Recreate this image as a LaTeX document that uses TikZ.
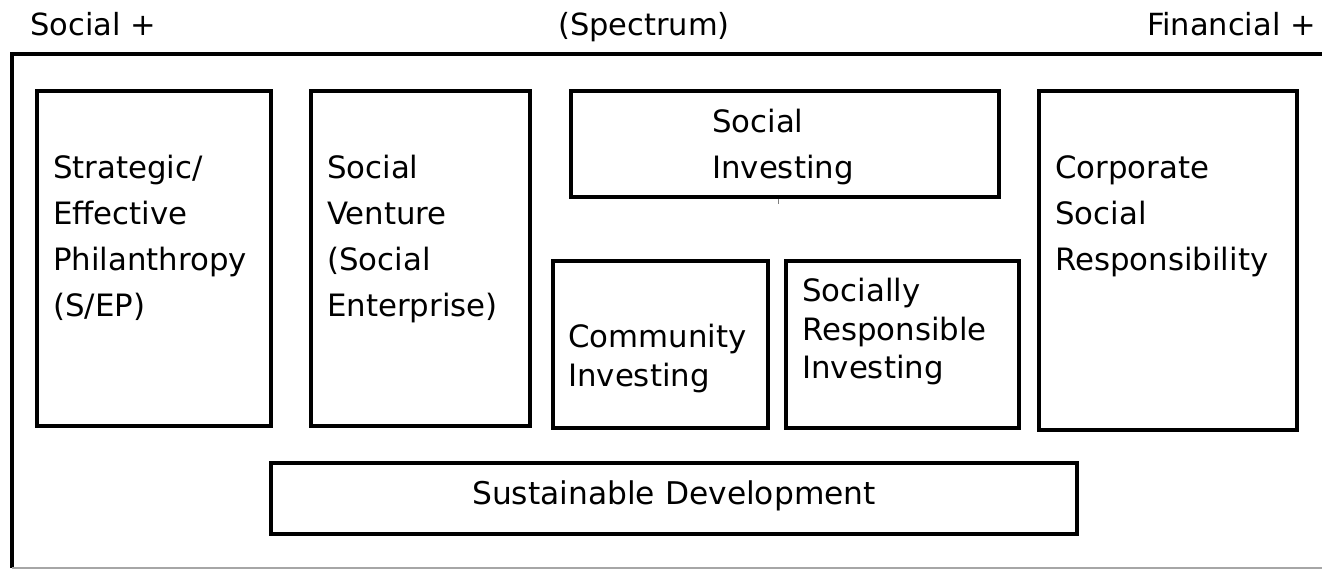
\documentclass[tikz,border=0pt]{standalone}
\usepackage{fontspec}
\setmainfont{DejaVu Sans}
\usetikzlibrary{fit}
\begin{document}
\begin{tikzpicture}[x=1pt,y=-1pt,
  box/.style={draw, line width=4pt, inner sep=0pt},
  lblwide/.style={anchor=north west, inner sep=0pt, align=left, font=\fontsize{30.8}{46}\selectfont},
  lblnarrow/.style={anchor=north west, inner sep=0pt, align=left, font=\fontsize{30.8}{38.5}\selectfont},
  toplbl/.style={inner sep=0pt, font=\fontsize{30.5}{36}\selectfont}]
\useasboundingbox (0,0) rectangle (1322,570);
% outer frame
\coordinate (fTR) at (1322,54);
\coordinate (fTL) at (12,54);
\coordinate (fBL) at (12,568);
\coordinate (fBR) at (1322,568);
\draw[line width=3.5pt, line join=miter] (fTR) -- (fTL) -- (fBL);
\draw[gray!70, line width=1.5pt] (fBL) -- (fBR);
% top labels
\node[toplbl, anchor=base west] (soc) at (30,35) {Social +};
\node[toplbl, anchor=base west] (spec) at (558,35) {(Spectrum)};
\node[toplbl, anchor=base east] (fin) at (1316,35) {Financial +};
% boxes
\node[box, fit={(37,90.5)(270.5,425.5)}] (sep) {};
\node[box, fit={(310.5,90.5)(530,425.5)}] (sv) {};
\node[box, fit={(571,90.5)(999,197)}] (si) {};
\node[box, fit={(552.5,260.5)(767.5,427.5)}] (ci) {};
\node[box, fit={(785.5,260.5)(1019,427.5)}] (sri) {};
\node[box, fit={(1039,90.5)(1297,430)}] (csr) {};
\node[box, fit={(271,463)(1077,534)}] (sd) {};
% small tick under Social Investing
\coordinate (tickA) at (778,199);
\coordinate (tickB) at (778,204);
\draw[gray, line width=1pt] (tickA) -- (tickB);
% labels
\node[lblwide] (tsep) at (53,155) {\rule{0pt}{23pt}Strategic/\\Effective\\Philanthropy\\(S/EP)};
\node[lblwide] (tsv) at (327,155) {\rule{0pt}{23pt}Social\\Venture\\(Social\\Enterprise)};
\node[lblwide] (tcsr) at (1055,155) {\rule{0pt}{23pt}Corporate\\Social\\Responsibility};
\node[lblwide] (tsi) at (712,109) {\rule{0pt}{23pt}Social\\Investing};
\node[lblnarrow] (tci) at (568,324) {\rule{0pt}{23pt}Community\\Investing};
\node[lblnarrow] (tsri) at (802,278) {\rule{0pt}{23pt}Socially\\Responsible\\Investing};
\node[inner sep=0pt, font=\fontsize{31.3}{36}\selectfont, anchor=base] (tsd) at (674,504) {Sustainable Development};
\end{tikzpicture}
\end{document}
